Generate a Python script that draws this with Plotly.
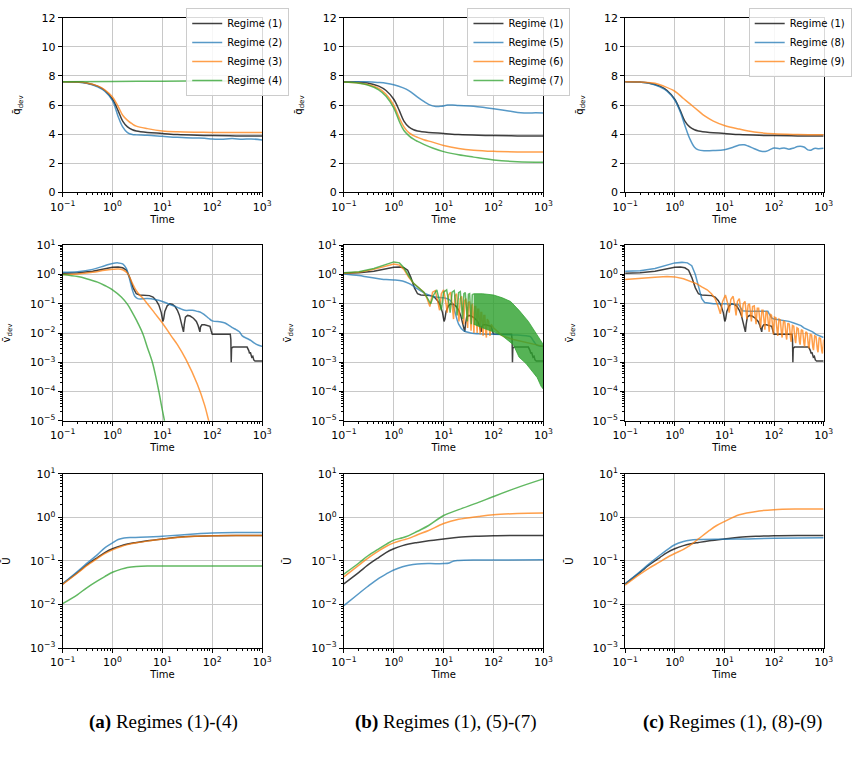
import plotly.graph_objects as go

# ---------------- data (time, value) ----------------
# Top row: q_dev
Q1 = [(0.1,7.6),(0.2,7.58),(0.3,7.52),(0.5,7.3),(0.7,7.0),(1,6.4),(1.3,5.6),(1.6,4.9),(2,4.5),(2.5,4.3),(3,4.22),(5,4.12),(10,4.05),(20,3.97),(50,3.92),(100,3.9),(300,3.88),(1000,3.87)]
Q2 = [(0.1,7.6),(0.2,7.58),(0.3,7.5),(0.5,7.25),(0.7,6.95),(1,6.3),(1.3,5.2),(1.6,4.5),(2,4.1),(2.5,3.97),(3,3.95),(5,3.92),(10,3.85),(20,3.78),(40,3.73),(70,3.72),(100,3.66),(150,3.65),(250,3.7),(400,3.65),(600,3.67),(1000,3.6)]
Q3 = [(0.1,7.6),(0.2,7.58),(0.3,7.52),(0.5,7.32),(0.7,7.05),(1,6.55),(1.3,5.9),(1.6,5.3),(2,4.95),(2.5,4.7),(3,4.55),(5,4.38),(10,4.22),(20,4.16),(50,4.13),(100,4.12),(1000,4.12)]
Q4 = [(0.1,7.6),(1,7.62),(10,7.64),(100,7.65),(1000,7.65)]
Q5 = [(0.1,7.6),(0.3,7.6),(0.5,7.55),(0.7,7.5),(1,7.4),(1.5,7.2),(2,7.0),(3,6.55),(4,6.25),(5,6.05),(7,5.9),(9,5.92),(12,6.0),(15,6.0),(20,5.97),(40,5.92),(70,5.82),(100,5.75),(200,5.6),(350,5.47),(500,5.45),(700,5.47),(1000,5.45)]
Q6 = [(0.1,7.58),(0.2,7.52),(0.3,7.42),(0.5,7.15),(0.7,6.75),(1,6.0),(1.3,5.1),(1.6,4.5),(2,4.1),(2.5,3.9),(3,3.78),(4,3.62),(6,3.45),(10,3.22),(20,3.02),(40,2.9),(100,2.82),(300,2.78),(1000,2.77)]
Q7 = [(0.1,7.58),(0.2,7.5),(0.3,7.38),(0.5,7.05),(0.7,6.6),(1,5.8),(1.3,4.85),(1.6,4.25),(2,3.9),(2.5,3.65),(3,3.5),(4,3.3),(6,3.05),(10,2.8),(20,2.58),(40,2.42),(100,2.23),(300,2.1),(1000,2.06)]
Q8 = [(0.1,7.6),(0.2,7.57),(0.3,7.5),(0.5,7.25),(0.7,6.95),(1,6.35),(1.3,5.5),(1.6,4.6),(2,3.7),(2.5,3.1),(3,2.92),(4,2.86),(6,2.87),(10,2.93),(15,3.1),(20,3.25),(25,3.27),(30,3.18),(40,3.0),(55,2.82),(70,2.82),(85,2.95),(100,3.05),(130,3.0),(160,3.05),(200,2.97),(250,3.05),(300,3.15),(400,3.12),(480,2.92),(550,2.9),(650,3.02),(800,3.0),(1000,3.03)]
Q9 = [(0.1,7.6),(0.2,7.58),(0.4,7.5),(0.6,7.3),(1,6.95),(1.5,6.45),(2,6.1),(3,5.6),(4,5.25),(6,4.9),(10,4.6),(20,4.35),(40,4.15),(100,4.02),(300,3.97),(1000,3.95)]

# Middle row: v_dev
V1 = [(0.1,1.1),(0.2,1.15),(0.4,1.3),(0.7,1.6),(1.0,1.78),(1.3,1.8),(1.6,1.7),(1.9,1.4),(2.2,0.8),(2.6,0.35),(3.0,0.22),(3.5,0.2),(4.5,0.2),(5.5,0.19),(6.5,0.17),(7.5,0.13),(8.5,0.09),(9.5,0.05),(10.2,0.025),(10.6,0.03),(11.2,0.055),(12.5,0.085),(14,0.1),(16,0.095),(18,0.08),(20,0.06),(22,0.04),(24,0.022),(25.5,0.014),(26.5,0.011),(27.5,0.02),(29,0.035),(32,0.04),(36,0.038),(42,0.032),(48,0.025),(52,0.018),(55,0.013),(56.5,0.011),(58,0.016),(62,0.019),(70,0.019),(80,0.018),(90,0.017),(95,0.012),(100,0.009),(150,0.009),(200,0.009),(230,0.009),(236,0.006),(240,0.001),(244,0.003),(260,0.0033),(300,0.0033),(400,0.0033),(500,0.0033),(540,0.0025),(560,0.002),(580,0.0022),(600,0.0016),(620,0.0015),(650,0.0016),(680,0.0012),(720,0.0011),(800,0.0011),(1000,0.0011)]
V2 = [(0.1,1.2),(0.2,1.25),(0.4,1.5),(0.7,2.0),(1,2.4),(1.3,2.5),(1.6,2.3),(1.9,1.6),(2.2,0.7),(2.5,0.3),(2.8,0.18),(3.2,0.15),(5,0.15),(7,0.14),(10,0.12),(13,0.1),(17,0.085),(22,0.07),(28,0.06),(40,0.06),(50,0.055),(60,0.05),(70,0.042),(85,0.032),(100,0.026),(150,0.024),(180,0.022),(220,0.018),(260,0.015),(300,0.013),(350,0.011),(400,0.008),(500,0.0065),(600,0.0055),(700,0.0045),(850,0.0038),(1000,0.0035)]
V3 = [(0.1,1.0),(0.2,1.05),(0.4,1.2),(0.7,1.4),(1,1.5),(1.3,1.55),(1.6,1.45),(2,1.1),(2.5,0.5),(3,0.28),(3.5,0.2),(4,0.16),(5,0.1),(7,0.048),(10,0.022),(15,0.008),(20,0.004),(30,0.0012),(50,1.8e-4),(70,3.5e-5),(85,1e-5),(95,5e-6)]
V4 = [(0.1,1.0),(0.2,0.85),(0.3,0.72),(0.5,0.55),(0.7,0.42),(1,0.3),(1.5,0.17),(2,0.095),(2.5,0.05),(3,0.028),(4,0.01),(5,0.0032),(6.3,0.001),(7.3,3.5e-4),(8.5,1e-4),(9.7,3e-5),(11,1e-5),(11.5,6e-6)]
V5 = [(0.1,1.05),(0.2,0.92),(0.3,0.82),(0.5,0.72),(0.7,0.67),(1,0.65),(1.5,0.6),(2,0.5),(2.5,0.4),(3,0.32),(4,0.24),(5,0.2),(7,0.17),(10,0.16),(13,0.14),(15,0.1),(17,0.05),(20,0.02),(25,0.012),(35,0.01),(60,0.0093),(100,0.009),(200,0.0088),(300,0.0085),(450,0.008),(550,0.0075),(650,0.005),(750,0.0038),(1000,0.0035)]
V6 = [(0.1,1.1),(0.2,1.2),(0.4,1.5),(0.7,2.0),(1,2.3),(1.3,2.1),(1.6,1.5),(2,0.8),(2.5,0.5),(3,0.38),(3.5,0.3),(4,0.25),(4.6,0.16),(5.3,0.08),(6.0,0.25),(6.8,0.28),(7.6,0.12),(8.3,0.06),(9.0,0.22),(10,0.3),(11,0.12),(11.8,0.05),(12.6,0.2),(13.8,0.25),(15,0.08),(15.8,0.03),(16.8,0.18),(18.2,0.22),(19.5,0.06),(20.3,0.025),(21.5,0.15),(23,0.18),(24.5,0.05),(25.3,0.02),(26.5,0.13),(28,0.15),(29.5,0.04),(30.3,0.015),(31.5,0.11),(33,0.12),(34.5,0.03),(35.5,0.012),(36.7,0.09),(38,0.1),(39.5,0.025),(40.5,0.01),(42,0.08),(44,0.08),(46,0.02),(47,0.01),(48.5,0.065),(50.5,0.065),(53,0.015),(54,0.009),(56,0.05),(58,0.05),(61,0.012),(62,0.008),(64,0.04),(67,0.04),(70,0.01),(72,0.007),(75,0.03),(80,0.025),(85,0.008),(90,0.02),(100,0.015),(150,0.008),(250,0.006),(400,0.005),(600,0.0045),(800,0.004),(1000,0.0035)]
V7 = [(0.1,1.15),(0.2,1.25),(0.4,1.6),(0.7,2.2),(1,2.7),(1.3,2.5),(1.6,1.7),(2,0.9),(2.5,0.5),(3,0.38),(3.5,0.3),(4,0.25),(4.8,0.15),(5.5,0.1),(6.3,0.2),(7.3,0.3),(8.3,0.12),(9.0,0.06),(10,0.25),(11.5,0.3),(12.8,0.1),(13.5,0.05),(14.8,0.25),(16.3,0.28),(17.8,0.08),(18.6,0.04),(20,0.24),(21.6,0.26),(23,0.07),(24,0.03),(25.5,0.22),(27.2,0.24),(28.8,0.06),(29.8,0.025),(31.4,0.21),(33.2,0.22),(34.8,0.05),(35.8,0.02),(37.5,0.2),(40,0.22)]
V7_UPPER = [(40,0.22),(60,0.22),(100,0.2),(150,0.16),(220,0.12),(325,0.06),(500,0.025),(750,0.009),(1000,0.004)]
V7_LOWER = [(40,0.02),(60,0.015),(100,0.011),(150,0.008),(250,0.004),(325,0.0015),(450,0.0009),(600,0.0005),(750,0.0003),(900,0.00015),(1000,0.00012)]
V8 = [(0.1,1.3),(0.2,1.35),(0.4,1.6),(0.7,2.1),(1,2.5),(1.4,2.6),(1.8,2.5),(2.2,2.0),(2.6,1.0),(3,0.4),(3.5,0.15),(4,0.11),(6,0.1),(10,0.1),(15,0.1),(19,0.095),(21,0.075),(23,0.058),(30,0.056),(50,0.056),(75,0.055),(80,0.045),(90,0.033),(100,0.03),(150,0.027),(200,0.025),(250,0.022),(300,0.02),(350,0.018),(400,0.015),(500,0.013),(600,0.011),(700,0.009),(850,0.008),(1000,0.007)]
V9 = [(0.1,0.68),(0.2,0.72),(0.4,0.8),(0.7,0.85),(1,0.83),(1.5,0.72),(2,0.6),(2.8,0.48),(3.5,0.38),(4.5,0.3),(5.5,0.22),(6.5,0.15),(7.5,0.08),(8.3,0.045),(9.2,0.12),(10.5,0.2),(11.7,0.1),(12.5,0.05),(13.5,0.14),(15,0.18),(16.3,0.08),(17.2,0.04),(18.3,0.12),(20,0.15),(21.5,0.06),(22.5,0.035),(24,0.1),(26,0.12),(27.5,0.05),(28.5,0.03),(30,0.09),(32,0.1),(34,0.04),(35,0.025),(37,0.08),(40,0.085),(42,0.035),(43.5,0.02),(46,0.07),(49,0.07),(52,0.025),(53.5,0.015),(57,0.06),(60,0.06),(64,0.02),(65.5,0.013),(69,0.055),(73,0.05),(78,0.017),(80,0.011),(84,0.045),(89,0.04),(95,0.014),(97,0.009),(102,0.035),(109,0.033),(116,0.011),(119,0.008),(126,0.03),(134,0.028),(142,0.009),(146,0.007),(155,0.026),(165,0.024),(175,0.008),(180,0.006),(190,0.022),(203,0.02),(215,0.007),(222,0.005),(235,0.018),(250,0.017),(265,0.006),(273,0.0045),(290,0.015),(308,0.014),(326,0.005),(336,0.004),(355,0.013),(378,0.012),(400,0.0045),(413,0.0035),(437,0.011),(465,0.01),(492,0.0038),(508,0.003),(537,0.009),(572,0.0085),(605,0.0033),(625,0.0026),(660,0.008),(703,0.0075),(745,0.0028),(770,0.0022),(812,0.007),(865,0.0065),(915,0.0025),(945,0.002),(1000,0.006)]

# Bottom row: U
U1 = [(0.1,0.03),(0.2,0.055),(0.3,0.08),(0.5,0.12),(0.7,0.155),(1,0.19),(1.5,0.225),(2,0.245),(3,0.265),(5,0.29),(10,0.32),(20,0.35),(50,0.37),(100,0.38),(300,0.385),(1000,0.385)]
U2 = [(0.1,0.03),(0.2,0.058),(0.3,0.087),(0.5,0.14),(0.7,0.2),(1,0.26),(1.3,0.31),(1.7,0.335),(2.5,0.345),(5,0.355),(10,0.37),(20,0.39),(50,0.42),(100,0.44),(300,0.45),(1000,0.45)]
U3 = [(0.1,0.029),(0.2,0.053),(0.3,0.077),(0.5,0.115),(0.7,0.148),(1,0.18),(1.5,0.215),(2,0.237),(3,0.26),(5,0.285),(10,0.315),(20,0.345),(50,0.368),(100,0.378),(300,0.382),(1000,0.383)]
U4 = [(0.1,0.0105),(0.2,0.017),(0.3,0.024),(0.5,0.035),(0.7,0.044),(1,0.055),(1.5,0.065),(2,0.071),(3,0.075),(5,0.077),(10,0.077),(100,0.077),(1000,0.077)]
U5 = [(0.1,0.0095),(0.2,0.018),(0.3,0.026),(0.5,0.04),(0.7,0.05),(1,0.062),(1.5,0.074),(2,0.08),(3,0.085),(5,0.087),(10,0.087),(13,0.09),(16,0.1),(20,0.103),(50,0.105),(1000,0.106)]
U6 = [(0.1,0.043),(0.2,0.08),(0.3,0.115),(0.5,0.17),(0.7,0.215),(1,0.26),(1.5,0.3),(2,0.33),(3,0.4),(5,0.5),(10,0.72),(20,0.9),(50,1.05),(100,1.15),(300,1.22),(1000,1.25)]
U7 = [(0.1,0.05),(0.2,0.09),(0.3,0.13),(0.5,0.19),(0.7,0.24),(1,0.3),(1.5,0.34),(2,0.38),(3,0.48),(5,0.65),(10,1.1),(20,1.5),(50,2.2),(100,3.0),(300,4.8),(1000,7.6)]
U8 = [(0.1,0.03),(0.2,0.057),(0.3,0.085),(0.5,0.135),(0.7,0.18),(1,0.235),(1.5,0.28),(2,0.3),(3,0.31),(10,0.315),(30,0.32),(100,0.33),(1000,0.34)]
U9 = [(0.1,0.028),(0.2,0.05),(0.3,0.068),(0.5,0.095),(0.7,0.12),(1,0.148),(1.5,0.185),(2,0.225),(3,0.32),(5,0.5),(7,0.65),(10,0.8),(20,1.15),(50,1.4),(100,1.5),(300,1.55),(1000,1.56)]

COLUMN_REGIMES = [["1", "2", "3", "4"], ["1", "5", "6", "7"], ["1", "8", "9"]]
CAPTIONS = [("(a)", "Regimes (1)-(4)"), ("(b)", "Regimes (1), (5)-(7)"), ("(c)", "Regimes (1), (8)-(9)")]
X_EXPONENTS = [-1, 0, 1, 2, 3]
Y_EXPONENTS = [[-5, -4, -3, -2, -1, 0, 1], [-3, -2, -1, 0, 1]]

Q = {"1": Q1, "2": Q2, "3": Q3, "4": Q4, "5": Q5, "6": Q6, "7": Q7, "8": Q8, "9": Q9}
V = {"1": V1, "2": V2, "3": V3, "4": V4, "5": V5, "6": V6, "7": V7, "8": V8, "9": V9}
U = {"1": U1, "2": U2, "3": U3, "4": U4, "5": U5, "6": U6, "7": U7, "8": U8, "9": U9}
OSC = {"1", "6", "7", "8", "9"}  # middle-row series drawn with straight segments

# ---------------- styling ----------------
W, H = 857, 767
COLORS = ["rgba(0,0,0,0.75)", "rgba(31,119,180,0.75)", "rgba(255,127,14,0.75)", "rgba(44,160,44,0.75)"]
XPIX = [(51, 256), (340, 545), (629, 833)]
YPIX = [(10, 188), (242, 421), (475, 653)]
LEG_X = [178, 467, 756]
CAP_X = [155, 445, 739]
YTITLE_STANDOFF = [18, 17, 17]
FONT = "DejaVu Sans, sans-serif"


def pow_labels(exps):
    vals = [10.0 ** e for e in exps]
    txt = [f"10<sup>{str(e).replace('-', '−')}</sup>" for e in exps]
    return vals, txt


def minor_vals(exps):
    out = []
    for e in exps[:-1]:
        for m in range(2, 10):
            out.append(m * 10.0 ** e)
    return out


fig = go.Figure()
layout = dict(width=W, height=H, margin=dict(l=0, r=0, t=0, b=0),
              plot_bgcolor="white", paper_bgcolor="white", showlegend=True,
              font=dict(family=FONT, size=11, color="black"))


def xy(pairs):
    return [p[0] for p in pairs], [p[1] for p in pairs]


ylabels = ["q̄<sub>dev</sub>", "v̄<sub>dev</sub>", "Ū"]
annotations = []

for c in range(3):
    for r in range(3):
        idx = r * 3 + c + 1
        xa = "xaxis" if idx == 1 else f"xaxis{idx}"
        ya = "yaxis" if idx == 1 else f"yaxis{idx}"
        xref = "x" if idx == 1 else f"x{idx}"
        yref = "y" if idx == 1 else f"y{idx}"
        x0, x1 = XPIX[c]
        y0, y1 = YPIX[r]
        common = dict(showline=True, mirror=True, linecolor="black", linewidth=1,
                      ticks="outside", ticklen=4, tickwidth=0.8, tickcolor="black",
                      showgrid=True, gridcolor="#c8c8c8", gridwidth=1, zeroline=False,
                      tickfont=dict(size=11, family=FONT))
        xv, xt = pow_labels(X_EXPONENTS)
        layout[xa] = dict(common, type="log", range=[-1, 3], tickmode="array", tickvals=xv, ticktext=xt,
                          domain=[x0 / W, x1 / W], anchor=yref,
                          minor=dict(ticks="outside", ticklen=2, tickcolor="black", tickmode="array",
                                     tickvals=minor_vals(X_EXPONENTS), showgrid=False),
                          title=dict(text="Time", font=dict(size=10, family=FONT), standoff=0))
        if r == 0:
            layout[ya] = dict(common, range=[0, 12], dtick=2, domain=[1 - y1 / H, 1 - y0 / H], anchor=xref,
                              title=dict(text=ylabels[r], font=dict(size=10, family=FONT),
                                         standoff=YTITLE_STANDOFF[r]))
        else:
            exps = Y_EXPONENTS[r - 1]
            yv, yt = pow_labels(exps)
            layout[ya] = dict(common, type="log", range=[exps[0], exps[-1]], tickmode="array",
                              tickvals=yv, ticktext=yt,
                              domain=[1 - y1 / H, 1 - y0 / H], anchor=xref,
                              minor=dict(ticks="outside", ticklen=2, tickcolor="black", tickmode="array",
                                         tickvals=minor_vals(exps), showgrid=False),
                              title=dict(text=ylabels[r], font=dict(size=10, family=FONT),
                                         standoff=YTITLE_STANDOFF[r]))
        legname = "legend" if c == 0 else f"legend{c + 1}"
        for k, reg in enumerate(COLUMN_REGIMES[c]):
            col = COLORS[k]
            src = [Q, V, U][r][reg]
            tx, vy = xy(src)
            shape = "linear" if (r == 1 and reg in OSC) else "spline"
            fig.add_trace(go.Scatter(x=tx, y=vy, mode="lines", xaxis=xref, yaxis=yref,
                                     line=dict(color=col, width=1.5, shape=shape),
                                     name=f"Regime ({reg})", legend=legname,
                                     showlegend=(r == 0)))
            if r == 1 and reg == "7":
                ux, uy = xy(V7_UPPER)
                lx, ly = xy(V7_LOWER)
                fig.add_trace(go.Scatter(x=ux + lx[::-1], y=uy + ly[::-1], mode="lines", xaxis=xref, yaxis=yref,
                                         fill="toself", fillcolor="rgba(44,160,44,0.8)",
                                         line=dict(color=col, width=1), showlegend=False, legend=legname))
    layout["legend" if c == 0 else f"legend{c + 1}"] = dict(
        x=LEG_X[c] / W, y=1.0, xanchor="left", yanchor="top",
        bgcolor="rgba(255,255,255,0.85)", bordercolor="#cccccc", borderwidth=1,
        font=dict(size=10, family=FONT), itemwidth=30, tracegroupgap=0)
    annotations.append(dict(x=CAP_X[c] / W, y=1 - 728 / H, xref="paper", yref="paper",
                            xanchor="center", yanchor="middle",
                            text=f"<b>{CAPTIONS[c][0]}</b> {CAPTIONS[c][1]}", showarrow=False,
                            font=dict(family="Liberation Serif, DejaVu Serif, serif", size=19, color="black")))

layout["annotations"] = annotations
fig.update_layout(**layout)
fig.write_html("out.html")
